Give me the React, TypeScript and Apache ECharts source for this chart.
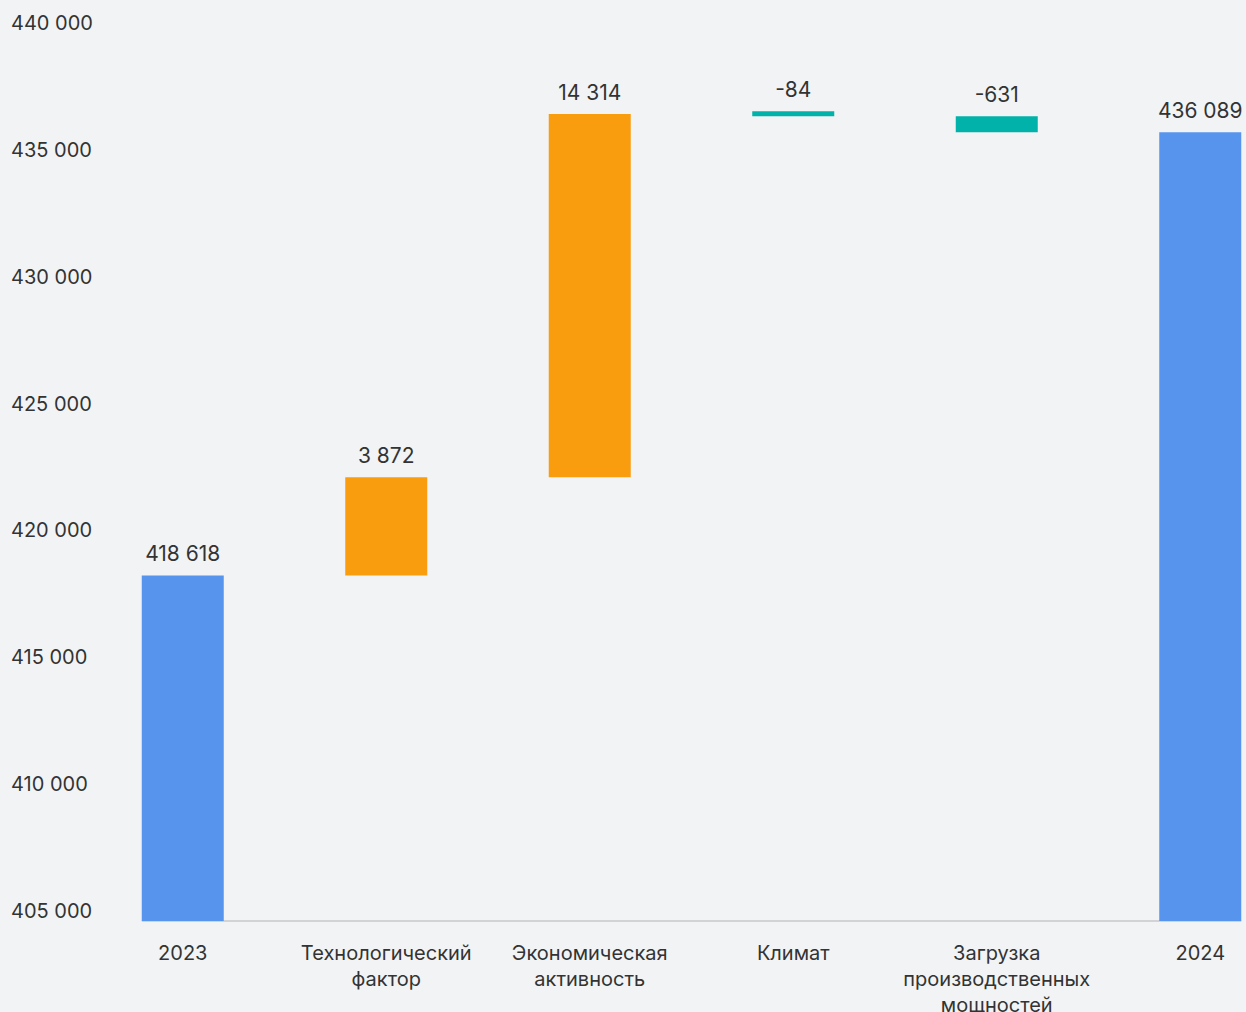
import React, { useEffect, useRef } from "react";
import * as echarts from "echarts";

const categories = [
  "2023",
  "Технологический\nфактор",
  "Экономическая\nактивность",
  "Климат",
  "Загрузка\nпроизводственных\nмощностей",
  "2024",
];
const deltas = [418618, 3872, 14314, -84, -631, 436089];
const isTotal = [true, false, false, false, false, true];
const yTicks = { min: 405000, max: 440000, interval: 5000 };

const BLUE = "#5794EE";
const ORANGE = "#F99D0F";
const TEAL = "#00B2A9";
const TEXT = "#333333";

const fmt = (v: number) => {
  const s = Math.abs(v).toString().replace(/\B(?=(\d{3})+(?!\d))/g, " ");
  return (v < 0 ? "-" : "") + s;
};

export default function App() {
  const ref = useRef<HTMLDivElement>(null);
  useEffect(() => {
    document.body.style.margin = "0";
    document.body.style.background = "#F2F3F5";
    if (!ref.current) return;
    const chart = echarts.init(ref.current, undefined, { renderer: "svg" });

    const bases: number[] = [];
    const heights: number[] = [];
    let running = 0;
    deltas.forEach((d, i) => {
      if (isTotal[i]) {
        bases.push(0);
        heights.push(d);
        running = d;
      } else if (d >= 0) {
        bases.push(running);
        heights.push(d);
        running += d;
      } else {
        running += d;
        bases.push(running);
        heights.push(-d);
      }
    });

    const colors = deltas.map((d, i) => (isTotal[i] ? BLUE : d >= 0 ? ORANGE : TEAL));

    chart.setOption({
      animation: false,
      backgroundColor: "#F2F3F5",
      textStyle: { fontFamily: "Inter" },
      grid: { left: 81, right: -56, top: 33, bottom: 91, outerBoundsMode: "none", containLabel: false },
      xAxis: {
        type: "category",
        data: categories,
        axisLine: { show: false },
        axisTick: { show: false },
        axisLabel: {
          interval: 0,
          color: TEXT,
          fontSize: 20,
          lineHeight: 26,
          margin: 19,
          fontFamily: "Inter",
        },
      },
      yAxis: {
        type: "value",
        min: yTicks.min,
        max: yTicks.max,
        interval: yTicks.interval,
        splitLine: { show: false },
        axisLine: { show: false },
        axisTick: { show: false },
        axisLabel: {
          color: TEXT,
          fontSize: 20,
          align: "left",
          verticalAlign: "bottom",
          margin: 70,
          fontFamily: "Inter",
          formatter: (v: number) => fmt(v),
        },
      },
      series: [
        {
          type: "bar",
          stack: "wf",
          barWidth: 82,
          itemStyle: { color: "transparent" },
          emphasis: { disabled: true },
          data: bases,
          silent: true,
        },
        {
          type: "bar",
          stack: "wf",
          barWidth: 82,
          barMinHeight: 5,
          data: heights.map((h, i) => ({ value: h, itemStyle: { color: colors[i] } })),
          label: {
            show: true,
            position: "top",
            distance: 11,
            color: TEXT,
            fontSize: 21,
            fontFamily: "Inter",
            formatter: (p: any) => fmt(deltas[p.dataIndex]),
          },
        },
      ],
    });

    const x0 = chart.convertToPixel({ xAxisIndex: 0 }, 0) as number;
    const x1 = chart.convertToPixel({ xAxisIndex: 0 }, categories.length - 1) as number;
    const yb = chart.convertToPixel({ yAxisIndex: 0 }, yTicks.min) as number;
    chart.setOption({
      graphic: [
        {
          type: "line",
          z: 0,
          shape: { x1: x0 - 41, y1: yb, x2: x1 + 41, y2: yb },
          style: { stroke: "#C8C9CC", lineWidth: 1.5 },
        },
      ],
    });

    return () => chart.dispose();
  }, []);
  return <div ref={ref} style={{ width: 1246, height: 1012 }} />;
}
